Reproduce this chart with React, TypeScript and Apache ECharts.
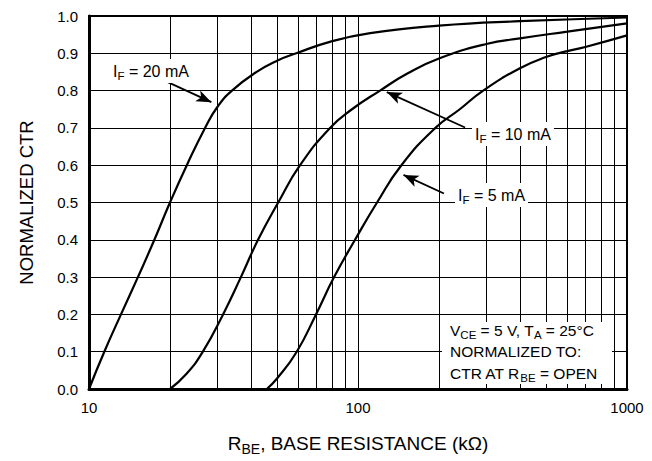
import React, { useEffect, useRef } from 'react';
import * as echarts from 'echarts';

const FONT = '"Liberation Sans", Arial, Helvetica, sans-serif';

// Normalized CTR vs base resistance (kΩ)
const curve20mA: [number, number][] = [
  [10, 0], [11.4, 0.1], [13.15, 0.2], [15.2, 0.3], [17.5, 0.4], [20, 0.5], [23.1, 0.6],
  [27, 0.7], [30, 0.756], [34, 0.8], [42, 0.85], [50, 0.88], [59, 0.9], [78, 0.93],
  [111, 0.954], [200, 0.974], [400, 0.986], [1000, 0.996],
];
const curve10mA: [number, number][] = [
  [20, 0], [23, 0.04], [26.5, 0.1], [31.5, 0.2], [36.7, 0.3], [42.5, 0.4],
  [50.5, 0.5], [60.9, 0.6], [78.7, 0.7], [95, 0.75], [120.8, 0.8], [152, 0.845],
  [200, 0.886], [300, 0.925], [400, 0.94], [600, 0.958], [1000, 0.98],
];
const curve5mA: [number, number][] = [
  [45.8, 0], [50, 0.028], [59.2, 0.1], [69.8, 0.2], [81.5, 0.3], [97.5, 0.4], [117.7, 0.5],
  [145, 0.6], [194, 0.7], [239, 0.75], [292, 0.8], [400, 0.86], [500, 0.89], [600, 0.906],
  [700, 0.917], [1000, 0.948],
];

const minorGridX = [20, 30, 40, 50, 60, 70, 80, 90, 200, 300, 400, 500, 600, 700, 800, 900];

// arrow [tail, head] in data coordinates
const arrow20: [number, number][] = [[19.17, 0.826], [28.5, 0.769]];
const arrow10: [number, number][] = [[250, 0.701], [128, 0.796]];
const arrow5: [number, number][] = [[208.7, 0.524], [147.6, 0.574]];

const arrowItem = (pts: [number, number][]) => [
  { coord: pts[0], symbol: 'none' },
  { coord: pts[1], symbol: 'arrow', symbolSize: [9, 15] },
];

const arrowMarkLine = (pts: [number, number][]) => ({
  silent: true,
  animation: false,
  label: { show: false },
  emphasis: { disabled: true },
  lineStyle: { color: '#000', width: 1.8, type: 'solid' },
  data: [arrowItem(pts)],
});

const subStyle = (size: number, pad: number) => ({
  fontSize: size,
  fontFamily: FONT,
  fill: '#000',
  color: '#000',
  padding: [pad, 0, 0, 0],
});
const mainStyle = (size: number) => ({ fontSize: size, fontFamily: FONT, fill: '#000', color: '#000' });

export default function App() {
  const ref = useRef<HTMLDivElement>(null);
  useEffect(() => {
    const chart = echarts.init(ref.current!, null, { renderer: 'svg' });
    const lineSeries = (name: string, data: [number, number][], arrow: [number, number][]) => ({
      name,
      type: 'line',
      data,
      smooth: 0.5,
      showSymbol: false,
      symbol: 'none',
      z: 3,
      lineStyle: { color: '#000', width: 2.2 },
      markLine: arrowMarkLine(arrow),
    });

    const labelText = (x: number, y: number, text: string, size: number, subSize: number, pad: number, bg: boolean) => ({
      type: 'text',
      x,
      y,
      z: 100,
      style: {
        text,
        align: 'left',
        verticalAlign: 'middle',
        fontSize: size,
        fontFamily: FONT,
        fill: '#000',
        backgroundColor: bg ? '#fff' : undefined,
        padding: bg ? [1, 3, 1, 3] : undefined,
        rich: { n: mainStyle(size), s: subStyle(subSize, pad) },
      },
    });

    const option: any = {
      animation: false,
      backgroundColor: '#fff',
      grid: {
        left: 89, right: 25, top: 16, bottom: 67,
        show: true, borderColor: '#000', borderWidth: 2, backgroundColor: 'transparent',
      },
      xAxis: {
        type: 'log',
        logBase: 10,
        min: 10,
        max: 1000,
        name: '{n|R}{s|BE}{n|, BASE RESISTANCE (kΩ)}',
        nameLocation: 'middle',
        nameGap: 42,
        nameTextStyle: {
          fontSize: 19, fontFamily: FONT, color: '#000',
          rich: { n: mainStyle(19), s: subStyle(14, 11) },
        },
        axisLine: { show: true, lineStyle: { color: '#000', width: 3 } },
        axisTick: { show: false },
        axisLabel: { color: '#000', fontSize: 15, fontFamily: FONT, margin: 11, formatter: (v: number) => String(v) },
        splitLine: { show: true, lineStyle: { color: '#000', width: 1 } },
      },
      yAxis: {
        type: 'value',
        min: 0,
        max: 1,
        interval: 0.1,
        name: 'NORMALIZED CTR',
        nameLocation: 'middle',
        nameGap: 53,
        nameTextStyle: { fontSize: 18.5, fontFamily: FONT, color: '#000' },
        axisLine: { show: true, lineStyle: { color: '#000', width: 3 } },
        axisTick: { show: false },
        axisLabel: { color: '#000', fontSize: 15, fontFamily: FONT, margin: 11, formatter: (v: number) => v.toFixed(1) },
        splitLine: { show: true, lineStyle: { color: '#000', width: 1 } },
      },
      series: [
        {
          name: 'grid',
          type: 'line',
          data: [],
          z: 1,
          silent: true,
          markLine: {
            silent: true,
            animation: false,
            symbol: 'none',
            label: { show: false },
            emphasis: { disabled: true },
            lineStyle: { color: '#000', width: 1, type: 'solid' },
            data: minorGridX.map((v) => ({ xAxis: v })),
          },
        },
        lineSeries('IF = 20 mA', curve20mA, arrow20),
        lineSeries('IF = 10 mA', curve10mA, arrow10),
        lineSeries('IF = 5 mA', curve5mA, arrow5),
      ],
      graphic: [
        { type: 'rect', z: 90, shape: { x: 442, y: 322, width: 170, height: 62 }, style: { fill: '#fff' } },
        labelText(450, 330, '{n|V}{s|CE}{n| = 5 V, T}{s|A}{n| = 25°C}', 15.5, 11.5, 10, false),
        labelText(450, 351.5, '{n|NORMALIZED TO:}', 15.5, 11.5, 10, false),
        labelText(450, 373, '{n|CTR AT R}{s|BE}{n| = OPEN}', 15.5, 11.5, 10, false),
        labelText(110, 71, '{n|I}{s|F}{n| = 20 mA}', 16, 11.5, 10, true),
        labelText(472, 134, '{n|I}{s|F}{n| = 10 mA}', 16, 11.5, 10, true),
        labelText(455, 195, '{n|I}{s|F}{n| = 5 mA}', 16, 11.5, 10, true),
      ],
    };
    chart.setOption(option);
    return () => chart.dispose();
  }, []);
  return <div ref={ref} style={{ position: 'fixed', left: 0, top: 0, width: 652, height: 461 }} />;
}
